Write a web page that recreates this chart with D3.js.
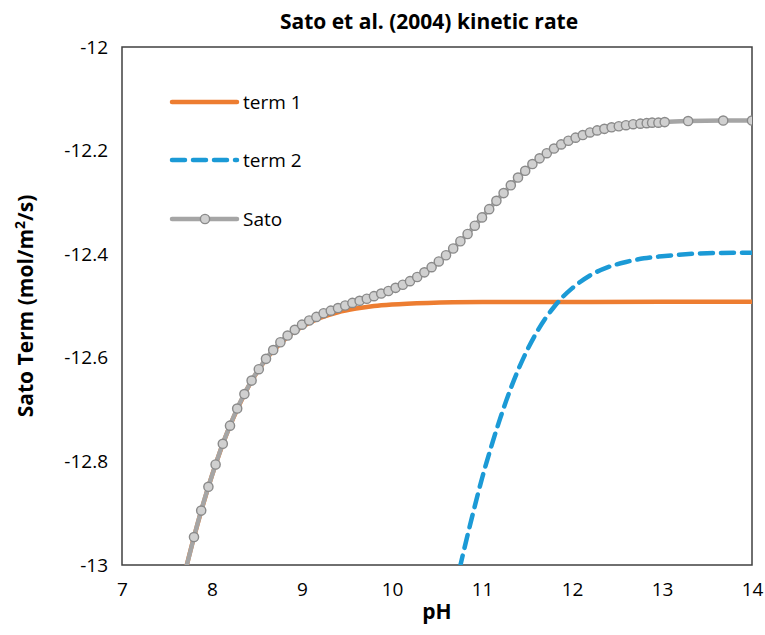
<!DOCTYPE html>
<html>
<head>
<meta charset="utf-8">
<script src="https://cdn.jsdelivr.net/npm/d3@7/dist/d3.min.js"></script>
<style>
  html, body { margin: 0; padding: 0; background: #fff; }
  svg { display: block; font-family: "Open Sans", Lato, sans-serif; }
</style>
</head>
<body>
<svg id="chart" width="765" height="635"></svg>
<script>
// pH grid and total rate (log10, mol/m2/s) for the Sato series
const satoPH = [7.70, 7.80, 7.88, 7.96, 8.04, 8.12, 8.20, 8.28, 8.36, 8.44, 8.52, 8.60, 8.68, 8.76, 8.84, 8.92,
  9.00, 9.08, 9.16, 9.24, 9.32, 9.40, 9.48, 9.56, 9.64, 9.72, 9.80, 9.88, 9.96, 10.04, 10.12, 10.20, 10.28,
  10.36, 10.44, 10.52, 10.60, 10.68, 10.76, 10.84, 10.92, 11.00, 11.08, 11.16, 11.24, 11.32, 11.40, 11.48,
  11.56, 11.64, 11.72, 11.80, 11.88, 11.96, 12.04, 12.12, 12.20, 12.28, 12.36, 12.44, 12.52, 12.60, 12.68,
  12.76, 12.83, 12.89, 12.96, 13.03, 13.29, 13.68, 14.00];
const satoRate = [-13.014, -12.946, -12.895, -12.849, -12.806, -12.766, -12.731, -12.698, -12.670, -12.644,
  -12.622, -12.602, -12.585, -12.570, -12.557, -12.546, -12.536, -12.528, -12.521, -12.514, -12.509, -12.504,
  -12.499, -12.494, -12.490, -12.486, -12.481, -12.476, -12.471, -12.465, -12.459, -12.452, -12.444, -12.435,
  -12.425, -12.414, -12.402, -12.389, -12.375, -12.361, -12.345, -12.329, -12.313, -12.297, -12.282, -12.267,
  -12.252, -12.239, -12.226, -12.215, -12.205, -12.196, -12.188, -12.181, -12.175, -12.170, -12.165, -12.161,
  -12.158, -12.155, -12.153, -12.151, -12.149, -12.148, -12.147, -12.146, -12.146, -12.145, -12.143, -12.142,
  -12.142];

// first term (neutral-to-mildly-alkaline contribution)
const term1PH = [7.70, 7.80, 7.90, 8.00, 8.10, 8.20, 8.30, 8.40, 8.50, 8.60, 8.70, 8.80, 8.90, 9.00, 9.20,
  9.40, 9.60, 9.80, 10.00, 10.40, 11.00, 12.00, 13.00, 14.00];
const term1Rate = [-13.014, -12.946, -12.884, -12.827, -12.776, -12.731, -12.692, -12.657, -12.628, -12.603,
  -12.583, -12.566, -12.551, -12.540, -12.523, -12.512, -12.505, -12.500, -12.497, -12.494, -12.4925, -12.4922,
  -12.492, -12.492];

// second term (high-pH contribution)
const term2PH = [10.70, 10.80, 10.90, 11.00, 11.10, 11.20, 11.30, 11.40, 11.50, 11.60, 11.70, 11.80, 11.90,
  12.00, 12.20, 12.40, 12.60, 12.80, 13.00, 13.50, 14.00];
const term2Rate = [-13.046, -12.971, -12.900, -12.833, -12.773, -12.718, -12.668, -12.624, -12.586, -12.553,
  -12.525, -12.502, -12.482, -12.466, -12.441, -12.425, -12.415, -12.408, -12.404, -12.398, -12.397];

const xTicks = [7, 8, 9, 10, 11, 12, 13, 14];
const yTicks = [-13, -12.8, -12.6, -12.4, -12.2, -12];
const yTickLabels = ["-13", "-12.8", "-12.6", "-12.4", "-12.2", "-12"];

const colors = { term1: "#ED7D31", term2: "#1B9AD6", sato: "#A5A5A5", satoMarker: "#8A8A8A" };

const svg = d3.select("#chart");
const plot = { left: 122, right: 752, top: 47, bottom: 565 };

const x = d3.scaleLinear().domain([7, 14]).range([plot.left, plot.right]);
const y = d3.scaleLinear().domain([-13, -12]).range([plot.bottom, plot.top]);

svg.append("defs").append("clipPath").attr("id", "plotClip")
  .append("rect")
  .attr("x", plot.left).attr("y", plot.top)
  .attr("width", plot.right - plot.left).attr("height", plot.bottom - plot.top);

// title
svg.append("text")
  .attr("x", 429).attr("y", 29)
  .attr("text-anchor", "middle")
  .attr("font-size", 21).attr("font-weight", "bold").attr("fill", "#000")
  .text("Sato et al. (2004) kinetic rate");

// axes (labels only, no tick marks)
const xAxis = svg.append("g")
  .attr("transform", `translate(0,${plot.bottom})`)
  .call(d3.axisBottom(x).tickValues(xTicks).tickSize(0).tickPadding(18).tickFormat(d3.format("d")));
xAxis.select(".domain").remove();
xAxis.selectAll("text").attr("font-size", 19).attr("fill", "#000").attr("font-family", "'Open Sans', sans-serif");

const yAxis = svg.append("g")
  .attr("transform", `translate(${plot.left},0)`)
  .call(d3.axisLeft(y).tickValues(yTicks).tickSize(0).tickPadding(14)
    .tickFormat((d, i) => yTickLabels[i]));
yAxis.select(".domain").remove();
yAxis.selectAll("text").attr("font-size", 19).attr("fill", "#000").attr("font-family", "'Open Sans', sans-serif");

// axis titles
svg.append("text")
  .attr("x", 437).attr("y", 619)
  .attr("text-anchor", "middle")
  .attr("font-size", 21).attr("font-weight", "bold")
  .text("pH");

const yTitle = svg.append("text")
  .attr("transform", `translate(33,${(plot.top + plot.bottom) / 2}) rotate(-90)`)
  .attr("text-anchor", "middle")
  .attr("font-size", 21).attr("font-weight", "bold");
yTitle.append("tspan").text("Sato Term (mol/m");
yTitle.append("tspan").attr("font-size", 14).attr("dy", -8).text("2");
yTitle.append("tspan").attr("dy", 8).text("/s)");

// plot frame
svg.append("rect")
  .attr("x", plot.left).attr("y", plot.top)
  .attr("width", plot.right - plot.left).attr("height", plot.bottom - plot.top)
  .attr("fill", "none").attr("stroke", "#404040").attr("stroke-width", 1.5);

const series = svg.append("g").attr("clip-path", "url(#plotClip)");

const line = d3.line().x(d => x(d[0])).y(d => y(d[1])).curve(d3.curveMonotoneX);

const term1Data = term1PH.map((p, i) => [p, term1Rate[i]]);
const term2Data = term2PH.map((p, i) => [p, term2Rate[i]]);
const satoData = satoPH.map((p, i) => [p, satoRate[i]]);

series.append("path").datum(term1Data)
  .attr("d", line).attr("fill", "none")
  .attr("stroke", colors.term1).attr("stroke-width", 4.5).attr("stroke-linecap", "round");

series.append("path").datum(term2Data)
  .attr("d", line).attr("fill", "none")
  .attr("stroke", colors.term2).attr("stroke-width", 4.5)
  .attr("stroke-dasharray", "13,8").attr("stroke-linecap", "round");

series.append("path").datum(satoData)
  .attr("d", line).attr("fill", "none")
  .attr("stroke", colors.sato).attr("stroke-width", 4.5);

series.selectAll("circle.sato").data(satoData).join("circle")
  .attr("class", "sato")
  .attr("cx", d => x(d[0])).attr("cy", d => y(d[1])).attr("r", 4.6)
  .attr("fill", "#D0D0D0").attr("stroke", colors.satoMarker).attr("stroke-width", 1.4);

// legend
const legend = svg.append("g").attr("transform", "translate(170,0)");
const legendItems = [
  { label: "term 1", y: 102, color: colors.term1, dash: null, marker: false },
  { label: "term 2", y: 160, color: colors.term2, dash: "13,8", marker: false },
  { label: "Sato", y: 219, color: colors.sato, dash: null, marker: true }
];
legendItems.forEach(it => {
  legend.append("line")
    .attr("x1", 2).attr("x2", 67).attr("y1", it.y).attr("y2", it.y)
    .attr("stroke", it.color).attr("stroke-width", 4.5)
    .attr("stroke-linecap", "round")
    .attr("stroke-dasharray", it.dash);
  if (it.marker) {
    legend.append("circle").attr("cx", 35).attr("cy", it.y).attr("r", 4.6)
      .attr("fill", "#D0D0D0").attr("stroke", colors.satoMarker).attr("stroke-width", 1.4);
  }
  legend.append("text")
    .attr("x", 73).attr("y", it.y + 7)
    .attr("font-size", 19).attr("fill", "#000")
    .text(it.label);
});
</script>
</body>
</html>
